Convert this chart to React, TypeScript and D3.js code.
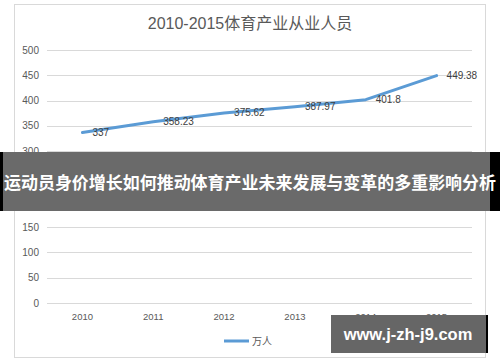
import React from "react";
import * as d3 from "d3";

const years = ["2010", "2011", "2012", "2013", "2014", "2015"];
const workers = [337, 358.23, 375.62, 387.97, 401.8, 449.38];
const yTicks = [0, 50, 100, 150, 200, 250, 300, 350, 400, 450, 500];
const chartTitle = "2010-2015体育产业从业人员";
const seriesName = "万人";
const bannerText = "运动员身价增长如何推动体育产业未来发展与变革的多重影响分析";
const watermark = "www.j-zh-j9.com";

const FONT = "'Liberation Sans', 'Noto Sans CJK SC', sans-serif";

export default function App() {
  const W = 500, H = 362;
  const x = d3.scaleBand<string>().domain(years).range([47, 472]);
  const y = d3.scaleLinear().domain([0, 500]).range([303, 50]);
  const line = d3
    .line<number>()
    .x((_, i) => (x(years[i]) as number) + x.bandwidth() / 2)
    .y((d) => y(d));

  return (
    <svg width={W} height={H} style={{ position: "absolute", left: 0, top: 0, fontFamily: FONT }}>
      <rect x={0} y={0} width={W} height={H} fill="#fff" />
      <rect x={14.5} y={4.5} width={471} height={353} fill="#fff" stroke="#d9d9d9" />
      <text x={250} y={29} textAnchor="middle" fontSize={16} fill="#595959">
        {chartTitle}
      </text>
      {yTicks.map((t) => (
        <g key={t}>
          <line x1={47} x2={472} y1={Math.round(y(t)) + 0.5} y2={Math.round(y(t)) + 0.5} stroke="#d9d9d9" />
          <text x={39} y={y(t)} dy="0.35em" textAnchor="end" fontSize={10} fill="#595959">
            {t}
          </text>
        </g>
      ))}
      {years.map((yr) => (
        <text key={yr} x={(x(yr) as number) + x.bandwidth() / 2} y={317} dy="0.35em" textAnchor="middle" fontSize={9.5} fill="#595959">
          {yr}
        </text>
      ))}
      <path d={line(workers) || ""} fill="none" stroke="#5b9bd5" strokeWidth={3} strokeLinecap="round" strokeLinejoin="round" />
      {workers.map((v, i) => (
        <text key={i} x={(x(years[i]) as number) + x.bandwidth() / 2 + 10} y={y(v)} dy="0.35em" fontSize={10} fill="#404040">
          {v}
        </text>
      ))}
      <line x1={224} x2={249} y1={341} y2={341} stroke="#5b9bd5" strokeWidth={3} />
      <text x={252} y={341} dy="0.35em" fontSize={10} fill="#595959">
        {seriesName}
      </text>

      <rect x={0} y={152} width={500} height={59} fill="#000" />
      <rect x={3} y={152} width={487} height={59} fill="#fff" />
      <rect x={3} y={152} width={487} height={59} fill="#555" opacity={0.88} />
      <text x={250} y={189} textAnchor="middle" fontSize={17} fontWeight="bold" fill="#fff" textLength={492} lengthAdjust="spacingAndGlyphs">
        {bannerText}
      </text>

      <rect x={331} y={315} width={157} height={38} fill="#000" />
      <rect x={331} y={315} width={155} height={38} fill="#fff" />
      <rect x={331} y={315} width={155} height={38} fill="#555" opacity={0.9} />
      <text x={408} y={340} textAnchor="middle" fontSize={16.5} fontWeight="bold" fill="#fff">
        {watermark}
      </text>
    </svg>
  );
}
